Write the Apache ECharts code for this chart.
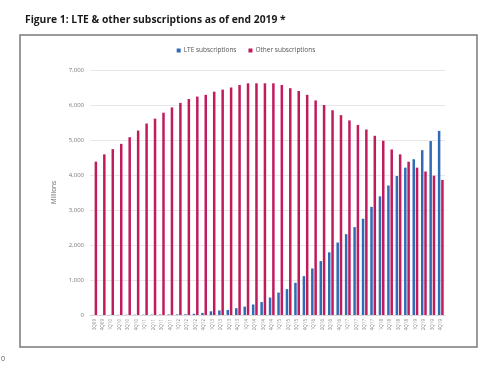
<!DOCTYPE html>
<html><head><meta charset="utf-8">
<script src="https://cdn.jsdelivr.net/npm/echarts@6/dist/echarts.min.js"></script>
<style>html,body{margin:0;padding:0;background:#fff}#c{width:492px;height:380px}</style>
</head><body><div id="c"></div>
<script>
const categories = ['3Q09','4Q09',
 '1Q10','2Q10','3Q10','4Q10','1Q11','2Q11','3Q11','4Q11','1Q12','2Q12','3Q12','4Q12',
 '1Q13','2Q13','3Q13','4Q13','1Q14','2Q14','3Q14','4Q14','1Q15','2Q15','3Q15','4Q15',
 '1Q16','2Q16','3Q16','4Q16','1Q17','2Q17','3Q17','4Q17','1Q18','2Q18','3Q18','4Q18',
 '1Q19','2Q19','3Q19','4Q19'];
const lteSubscriptions = [2,3,4,5,6,7,8,10,12,14,16,20,35,60,105,130,145,195,240,300,370,500,640,740,920,1110,1330,1540,1790,2070,2310,2510,2750,3090,3390,3700,3970,4210,4450,4710,4970,5260];
const otherSubscriptions = [4380,4590,4740,4890,5080,5270,5470,5610,5780,5930,6060,6170,6240,6290,6380,6440,6500,6570,6620,6620,6620,6620,6570,6480,6400,6290,6130,6000,5850,5710,5560,5430,5300,5120,4980,4730,4590,4380,4210,4100,3980,3860];
const yTicks = [0,1000,2000,3000,4000,5000,6000,7000];

const chart = echarts.init(document.getElementById('c'), null, {renderer:'canvas'});
const F = '"Open Sans", sans-serif';
chart.setOption({
  animation:false,
  title:{text:'Figure 1: LTE & other subscriptions as of end 2019 *', left:20, top:10,
    textStyle:{fontFamily:F, fontWeight:'bold', fontSize:10.3, color:'#1a1a1a'}},
  graphic:[
    {type:'rect', shape:{x:20, y:35, width:457, height:312}, style:{fill:'none', stroke:'#7a7a7a', lineWidth:1.5}, z:-1},
    {type:'text', left:1, top:355, style:{text:'0', fontFamily:F, fontSize:7, fill:'#555'}}
  ],
  legend:{top:42, left:'center', itemWidth:4, itemHeight:4, itemGap:12, icon:'rect',
    textStyle:{fontFamily:F, fontSize:6.5, color:'#555', padding:[0,0,0,-2]},
    data:['LTE subscriptions','Other subscriptions']},
  grid:{left:90, top:70, width:355, height:245, containLabel:false},
  xAxis:{type:'category', data:categories,
    axisLine:{show:true, lineStyle:{color:'#d9d9d9'}}, axisTick:{show:false},
    axisLabel:{rotate:90, interval:0, fontFamily:F, fontSize:4.5, color:'#888', margin:4}},
  yAxis:{type:'value', min:0, max:7000, interval:1000, name:'Millions', nameLocation:'middle', nameGap:29,
    nameTextStyle:{fontFamily:F, fontSize:6.5, color:'#666'},
    axisLine:{show:false}, axisTick:{show:false},
    splitLine:{lineStyle:{color:'#e8e8e8', width:1}},
    axisLabel:{fontFamily:F, fontSize:6, color:'#777', margin:6,
      formatter:v=> yTicks.includes(v) ? v.toLocaleString('en-US') : ''}},
  series:[
    {name:'LTE subscriptions', type:'bar', data:lteSubscriptions, barWidth:2.5, barGap:'32%', itemStyle:{color:'#2f6cb4'}},
    {name:'Other subscriptions', type:'bar', data:otherSubscriptions, barWidth:2.5, itemStyle:{color:'#c01b5d'}}
  ]
});
</script></body></html>
